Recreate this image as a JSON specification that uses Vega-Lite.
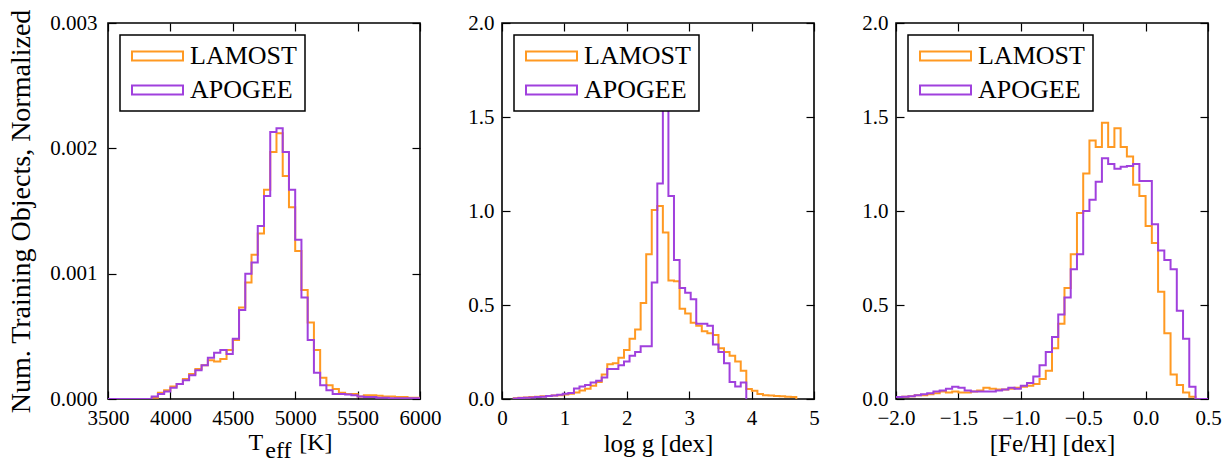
{
  "$schema": "https://vega.github.io/schema/vega-lite/v6.json",
  "background": "white",
  "padding": {"left": 6, "top": 8, "right": 5, "bottom": 0},
  "datasets": {
    "teff": [
      {"survey":"LAMOST","x":3500,"y":0},{"survey":"LAMOST","x":3550,"y":0},{"survey":"LAMOST","x":3600,"y":0},{"survey":"LAMOST","x":3650,"y":0},{"survey":"LAMOST","x":3700,"y":0},{"survey":"LAMOST","x":3750,"y":0},{"survey":"LAMOST","x":3800,"y":0},{"survey":"LAMOST","x":3850,"y":0.00001},{"survey":"LAMOST","x":3900,"y":0.00005},{"survey":"LAMOST","x":3950,"y":0.00007},
      {"survey":"LAMOST","x":4000,"y":0.0001},{"survey":"LAMOST","x":4050,"y":0.00012},{"survey":"LAMOST","x":4100,"y":0.00016},{"survey":"LAMOST","x":4150,"y":0.0002},{"survey":"LAMOST","x":4200,"y":0.00024},{"survey":"LAMOST","x":4250,"y":0.00027},{"survey":"LAMOST","x":4300,"y":0.00031},{"survey":"LAMOST","x":4350,"y":0.0003},{"survey":"LAMOST","x":4400,"y":0.00032},{"survey":"LAMOST","x":4450,"y":0.00039},
      {"survey":"LAMOST","x":4500,"y":0.00047},{"survey":"LAMOST","x":4550,"y":0.00073},{"survey":"LAMOST","x":4600,"y":0.00093},{"survey":"LAMOST","x":4650,"y":0.00115},{"survey":"LAMOST","x":4700,"y":0.00132},{"survey":"LAMOST","x":4750,"y":0.00167},{"survey":"LAMOST","x":4800,"y":0.00197},{"survey":"LAMOST","x":4850,"y":0.00212},{"survey":"LAMOST","x":4900,"y":0.00178},{"survey":"LAMOST","x":4950,"y":0.00153},
      {"survey":"LAMOST","x":5000,"y":0.00118},{"survey":"LAMOST","x":5050,"y":0.00087},{"survey":"LAMOST","x":5100,"y":0.00061},{"survey":"LAMOST","x":5150,"y":0.00039},{"survey":"LAMOST","x":5200,"y":0.00017},{"survey":"LAMOST","x":5250,"y":0.00011},{"survey":"LAMOST","x":5300,"y":0.00008},{"survey":"LAMOST","x":5350,"y":0.00005},{"survey":"LAMOST","x":5400,"y":0.00004},{"survey":"LAMOST","x":5450,"y":0.00004},
      {"survey":"LAMOST","x":5500,"y":0.00002},{"survey":"LAMOST","x":5550,"y":0.00003},{"survey":"LAMOST","x":5600,"y":0.00003},{"survey":"LAMOST","x":5650,"y":0.000025},{"survey":"LAMOST","x":5700,"y":0.00002},{"survey":"LAMOST","x":5750,"y":0.00002},{"survey":"LAMOST","x":5800,"y":0.000015},{"survey":"LAMOST","x":5850,"y":0.000015},{"survey":"LAMOST","x":5900,"y":0.00001},{"survey":"LAMOST","x":5950,"y":0.00001},{"survey":"LAMOST","x":6000,"y":0},
      {"survey":"APOGEE","x":3500,"y":0},{"survey":"APOGEE","x":3550,"y":0},{"survey":"APOGEE","x":3600,"y":0},{"survey":"APOGEE","x":3650,"y":0},{"survey":"APOGEE","x":3700,"y":0},{"survey":"APOGEE","x":3750,"y":0},{"survey":"APOGEE","x":3800,"y":0},{"survey":"APOGEE","x":3850,"y":0.00002},{"survey":"APOGEE","x":3900,"y":0.00004},{"survey":"APOGEE","x":3950,"y":0.00006},
      {"survey":"APOGEE","x":4000,"y":0.00009},{"survey":"APOGEE","x":4050,"y":0.00012},{"survey":"APOGEE","x":4100,"y":0.00015},{"survey":"APOGEE","x":4150,"y":0.00019},{"survey":"APOGEE","x":4200,"y":0.00023},{"survey":"APOGEE","x":4250,"y":0.00027},{"survey":"APOGEE","x":4300,"y":0.00033},{"survey":"APOGEE","x":4350,"y":0.00037},{"survey":"APOGEE","x":4400,"y":0.00039},{"survey":"APOGEE","x":4450,"y":0.00036},
      {"survey":"APOGEE","x":4500,"y":0.00048},{"survey":"APOGEE","x":4550,"y":0.00071},{"survey":"APOGEE","x":4600,"y":0.001},{"survey":"APOGEE","x":4650,"y":0.00109},{"survey":"APOGEE","x":4700,"y":0.00138},{"survey":"APOGEE","x":4750,"y":0.00162},{"survey":"APOGEE","x":4800,"y":0.00213},{"survey":"APOGEE","x":4850,"y":0.00216},{"survey":"APOGEE","x":4900,"y":0.00197},{"survey":"APOGEE","x":4950,"y":0.00167},
      {"survey":"APOGEE","x":5000,"y":0.00127},{"survey":"APOGEE","x":5050,"y":0.00081},{"survey":"APOGEE","x":5100,"y":0.00047},{"survey":"APOGEE","x":5150,"y":0.00021},{"survey":"APOGEE","x":5200,"y":0.00011},{"survey":"APOGEE","x":5250,"y":0.00007},{"survey":"APOGEE","x":5300,"y":0.00004},{"survey":"APOGEE","x":5350,"y":0.00004},{"survey":"APOGEE","x":5400,"y":0.000035},{"survey":"APOGEE","x":5450,"y":0.00003},
      {"survey":"APOGEE","x":5500,"y":0.00002},{"survey":"APOGEE","x":5550,"y":0.000015},{"survey":"APOGEE","x":5600,"y":0.000015},{"survey":"APOGEE","x":5650,"y":0.00001},{"survey":"APOGEE","x":5700,"y":0.00001},{"survey":"APOGEE","x":5750,"y":0.000005},{"survey":"APOGEE","x":5800,"y":0.000005},{"survey":"APOGEE","x":5850,"y":0.000005},{"survey":"APOGEE","x":5900,"y":0.000005},{"survey":"APOGEE","x":5950,"y":0.000005},{"survey":"APOGEE","x":6000,"y":0}
    ],
    "logg": [
      {"survey":"LAMOST","x":0.173,"y":0.004},{"survey":"LAMOST","x":0.262,"y":0.006},{"survey":"LAMOST","x":0.351,"y":0.008},{"survey":"LAMOST","x":0.44,"y":0.01},{"survey":"LAMOST","x":0.529,"y":0.012},{"survey":"LAMOST","x":0.618,"y":0.014},{"survey":"LAMOST","x":0.707,"y":0.016},{"survey":"LAMOST","x":0.796,"y":0.018},{"survey":"LAMOST","x":0.885,"y":0.02},{"survey":"LAMOST","x":0.974,"y":0.024},
      {"survey":"LAMOST","x":1.063,"y":0.028},{"survey":"LAMOST","x":1.153,"y":0.035},{"survey":"LAMOST","x":1.242,"y":0.045},{"survey":"LAMOST","x":1.331,"y":0.055},{"survey":"LAMOST","x":1.42,"y":0.07},{"survey":"LAMOST","x":1.509,"y":0.09},{"survey":"LAMOST","x":1.598,"y":0.13},{"survey":"LAMOST","x":1.687,"y":0.185},{"survey":"LAMOST","x":1.776,"y":0.19},{"survey":"LAMOST","x":1.865,"y":0.22},
      {"survey":"LAMOST","x":1.955,"y":0.26},{"survey":"LAMOST","x":2.044,"y":0.32},{"survey":"LAMOST","x":2.133,"y":0.37},{"survey":"LAMOST","x":2.222,"y":0.51},{"survey":"LAMOST","x":2.311,"y":0.77},{"survey":"LAMOST","x":2.4,"y":1.005},{"survey":"LAMOST","x":2.489,"y":1.026},{"survey":"LAMOST","x":2.578,"y":0.885},{"survey":"LAMOST","x":2.667,"y":0.63},{"survey":"LAMOST","x":2.756,"y":0.626},
      {"survey":"LAMOST","x":2.846,"y":0.48},{"survey":"LAMOST","x":2.935,"y":0.455},{"survey":"LAMOST","x":3.024,"y":0.405},{"survey":"LAMOST","x":3.113,"y":0.39},{"survey":"LAMOST","x":3.202,"y":0.36},{"survey":"LAMOST","x":3.291,"y":0.35},{"survey":"LAMOST","x":3.38,"y":0.34},{"survey":"LAMOST","x":3.469,"y":0.27},{"survey":"LAMOST","x":3.558,"y":0.25},{"survey":"LAMOST","x":3.647,"y":0.23},
      {"survey":"LAMOST","x":3.737,"y":0.2},{"survey":"LAMOST","x":3.826,"y":0.15},{"survey":"LAMOST","x":3.915,"y":0.053},{"survey":"LAMOST","x":4.004,"y":0.044},{"survey":"LAMOST","x":4.093,"y":0.026},{"survey":"LAMOST","x":4.182,"y":0.02},{"survey":"LAMOST","x":4.271,"y":0.018},{"survey":"LAMOST","x":4.36,"y":0.016},{"survey":"LAMOST","x":4.449,"y":0.014},{"survey":"LAMOST","x":4.538,"y":0.012},
      {"survey":"LAMOST","x":4.628,"y":0.01},{"survey":"LAMOST","x":4.717,"y":0},
      {"survey":"APOGEE","x":0.173,"y":0.003},{"survey":"APOGEE","x":0.262,"y":0.005},{"survey":"APOGEE","x":0.351,"y":0.007},{"survey":"APOGEE","x":0.44,"y":0.008},{"survey":"APOGEE","x":0.529,"y":0.01},{"survey":"APOGEE","x":0.618,"y":0.012},{"survey":"APOGEE","x":0.707,"y":0.016},{"survey":"APOGEE","x":0.796,"y":0.019},{"survey":"APOGEE","x":0.885,"y":0.023},{"survey":"APOGEE","x":0.974,"y":0.028},
      {"survey":"APOGEE","x":1.063,"y":0.032},{"survey":"APOGEE","x":1.153,"y":0.056},{"survey":"APOGEE","x":1.242,"y":0.067},{"survey":"APOGEE","x":1.331,"y":0.074},{"survey":"APOGEE","x":1.42,"y":0.088},{"survey":"APOGEE","x":1.509,"y":0.097},{"survey":"APOGEE","x":1.598,"y":0.115},{"survey":"APOGEE","x":1.687,"y":0.16},{"survey":"APOGEE","x":1.776,"y":0.16},{"survey":"APOGEE","x":1.865,"y":0.18},
      {"survey":"APOGEE","x":1.955,"y":0.2},{"survey":"APOGEE","x":2.044,"y":0.23},{"survey":"APOGEE","x":2.133,"y":0.25},{"survey":"APOGEE","x":2.222,"y":0.28},{"survey":"APOGEE","x":2.311,"y":0.28},{"survey":"APOGEE","x":2.4,"y":0.62},{"survey":"APOGEE","x":2.489,"y":1.146},{"survey":"APOGEE","x":2.578,"y":1.75},{"survey":"APOGEE","x":2.667,"y":1.08},{"survey":"APOGEE","x":2.756,"y":0.74},
      {"survey":"APOGEE","x":2.846,"y":0.59},{"survey":"APOGEE","x":2.935,"y":0.565},{"survey":"APOGEE","x":3.024,"y":0.53},{"survey":"APOGEE","x":3.113,"y":0.4},{"survey":"APOGEE","x":3.202,"y":0.4},{"survey":"APOGEE","x":3.291,"y":0.39},{"survey":"APOGEE","x":3.38,"y":0.29},{"survey":"APOGEE","x":3.469,"y":0.25},{"survey":"APOGEE","x":3.558,"y":0.19},{"survey":"APOGEE","x":3.647,"y":0.09},
      {"survey":"APOGEE","x":3.737,"y":0.067},{"survey":"APOGEE","x":3.826,"y":0.088},{"survey":"APOGEE","x":3.915,"y":0}
    ],
    "feh": [
      {"survey":"LAMOST","x":-2.0,"y":0.01},{"survey":"LAMOST","x":-1.95,"y":0.012},{"survey":"LAMOST","x":-1.9,"y":0.015},{"survey":"LAMOST","x":-1.85,"y":0.02},{"survey":"LAMOST","x":-1.8,"y":0.02},{"survey":"LAMOST","x":-1.75,"y":0.025},{"survey":"LAMOST","x":-1.7,"y":0.03},{"survey":"LAMOST","x":-1.65,"y":0.04},{"survey":"LAMOST","x":-1.6,"y":0.035},{"survey":"LAMOST","x":-1.55,"y":0.04},
      {"survey":"LAMOST","x":-1.5,"y":0.035},{"survey":"LAMOST","x":-1.45,"y":0.035},{"survey":"LAMOST","x":-1.4,"y":0.04},{"survey":"LAMOST","x":-1.35,"y":0.045},{"survey":"LAMOST","x":-1.3,"y":0.06},{"survey":"LAMOST","x":-1.25,"y":0.055},{"survey":"LAMOST","x":-1.2,"y":0.05},{"survey":"LAMOST","x":-1.15,"y":0.05},{"survey":"LAMOST","x":-1.1,"y":0.055},{"survey":"LAMOST","x":-1.05,"y":0.06},
      {"survey":"LAMOST","x":-1.0,"y":0.065},{"survey":"LAMOST","x":-0.95,"y":0.07},{"survey":"LAMOST","x":-0.9,"y":0.08},{"survey":"LAMOST","x":-0.85,"y":0.106},{"survey":"LAMOST","x":-0.8,"y":0.15},{"survey":"LAMOST","x":-0.75,"y":0.27},{"survey":"LAMOST","x":-0.7,"y":0.4},{"survey":"LAMOST","x":-0.65,"y":0.59},{"survey":"LAMOST","x":-0.6,"y":0.77},{"survey":"LAMOST","x":-0.55,"y":0.99},
      {"survey":"LAMOST","x":-0.5,"y":1.2},{"survey":"LAMOST","x":-0.45,"y":1.375},{"survey":"LAMOST","x":-0.4,"y":1.34},{"survey":"LAMOST","x":-0.35,"y":1.47},{"survey":"LAMOST","x":-0.3,"y":1.34},{"survey":"LAMOST","x":-0.25,"y":1.44},{"survey":"LAMOST","x":-0.2,"y":1.34},{"survey":"LAMOST","x":-0.15,"y":1.29},{"survey":"LAMOST","x":-0.1,"y":1.14},{"survey":"LAMOST","x":-0.05,"y":1.08},
      {"survey":"LAMOST","x":0.0,"y":0.92},{"survey":"LAMOST","x":0.05,"y":0.83},{"survey":"LAMOST","x":0.1,"y":0.57},{"survey":"LAMOST","x":0.15,"y":0.35},{"survey":"LAMOST","x":0.2,"y":0.13},{"survey":"LAMOST","x":0.25,"y":0.074},{"survey":"LAMOST","x":0.3,"y":0.035},{"survey":"LAMOST","x":0.35,"y":0.012},{"survey":"LAMOST","x":0.4,"y":0},{"survey":"LAMOST","x":0.45,"y":0},{"survey":"LAMOST","x":0.5,"y":0},
      {"survey":"APOGEE","x":-2.0,"y":0.01},{"survey":"APOGEE","x":-1.95,"y":0.012},{"survey":"APOGEE","x":-1.9,"y":0.015},{"survey":"APOGEE","x":-1.85,"y":0.02},{"survey":"APOGEE","x":-1.8,"y":0.025},{"survey":"APOGEE","x":-1.75,"y":0.03},{"survey":"APOGEE","x":-1.7,"y":0.04},{"survey":"APOGEE","x":-1.65,"y":0.045},{"survey":"APOGEE","x":-1.6,"y":0.055},{"survey":"APOGEE","x":-1.55,"y":0.065},
      {"survey":"APOGEE","x":-1.5,"y":0.06},{"survey":"APOGEE","x":-1.45,"y":0.045},{"survey":"APOGEE","x":-1.4,"y":0.04},{"survey":"APOGEE","x":-1.35,"y":0.04},{"survey":"APOGEE","x":-1.3,"y":0.04},{"survey":"APOGEE","x":-1.25,"y":0.04},{"survey":"APOGEE","x":-1.2,"y":0.045},{"survey":"APOGEE","x":-1.15,"y":0.05},{"survey":"APOGEE","x":-1.1,"y":0.06},{"survey":"APOGEE","x":-1.05,"y":0.055},
      {"survey":"APOGEE","x":-1.0,"y":0.07},{"survey":"APOGEE","x":-0.95,"y":0.085},{"survey":"APOGEE","x":-0.9,"y":0.12},{"survey":"APOGEE","x":-0.85,"y":0.18},{"survey":"APOGEE","x":-0.8,"y":0.25},{"survey":"APOGEE","x":-0.75,"y":0.33},{"survey":"APOGEE","x":-0.7,"y":0.45},{"survey":"APOGEE","x":-0.65,"y":0.54},{"survey":"APOGEE","x":-0.6,"y":0.69},{"survey":"APOGEE","x":-0.55,"y":0.77},
      {"survey":"APOGEE","x":-0.5,"y":1.0},{"survey":"APOGEE","x":-0.45,"y":1.06},{"survey":"APOGEE","x":-0.4,"y":1.155},{"survey":"APOGEE","x":-0.35,"y":1.28},{"survey":"APOGEE","x":-0.3,"y":1.25},{"survey":"APOGEE","x":-0.25,"y":1.225},{"survey":"APOGEE","x":-0.2,"y":1.235},{"survey":"APOGEE","x":-0.15,"y":1.24},{"survey":"APOGEE","x":-0.1,"y":1.25},{"survey":"APOGEE","x":-0.05,"y":1.16},
      {"survey":"APOGEE","x":0.0,"y":1.16},{"survey":"APOGEE","x":0.05,"y":0.93},{"survey":"APOGEE","x":0.1,"y":0.79},{"survey":"APOGEE","x":0.15,"y":0.74},{"survey":"APOGEE","x":0.2,"y":0.69},{"survey":"APOGEE","x":0.25,"y":0.47},{"survey":"APOGEE","x":0.3,"y":0.32},{"survey":"APOGEE","x":0.35,"y":0.065},{"survey":"APOGEE","x":0.4,"y":0},{"survey":"APOGEE","x":0.45,"y":0},{"survey":"APOGEE","x":0.5,"y":0}
    ]
  },
  "spacing": 82,
  "bounds": "flush",
  "resolve": {"scale": {"color": "independent"}, "legend": {"color": "independent"}},
  "hconcat": [
    {
      "width": 312, "height": 376,
      "data": {"name": "teff"},
      "resolve": {"axis": {"x": "independent", "y": "independent"}},
      "layer": [
        {
          "mark": {"type": "line", "interpolate": "step-after", "strokeWidth": 2, "clip": true},
          "encoding": {
            "x": {"field": "x", "type": "quantitative", "scale": {"domain": [3500, 6000], "nice": false, "zero": false},
                  "axis": {"orient": "bottom", "values": [3500, 4000, 4500, 5000, 5500, 6000], "format": "d", "title": ["T\u2003\u2002[K]", "\u200B\u2002\u2009eff"], "titleLineHeight": 8, "titleFontSize": 24, "titlePadding": 2, "titleAlign": "left", "titleX": 140}},
            "y": {"field": "y", "type": "quantitative", "scale": {"domain": [0, 0.003], "nice": false},
                  "axis": {"orient": "left", "values": [0, 0.001, 0.002, 0.003], "format": ".3f", "title": "Num. Training Objects, Normalized", "titleFontSize": 28, "titlePadding": 14, "labelPadding": 11}},
            "color": {"field": "survey", "type": "nominal", "sort": ["LAMOST", "APOGEE"], "scale": {"domain": ["LAMOST", "APOGEE"], "range": ["#ff9922", "#a040dd"]}}
          }
        },
        {
          "mark": {"type": "line", "opacity": 0},
          "encoding": {
            "x": {"field": "x", "type": "quantitative", "axis": {"orient": "top", "values": [3500, 4000, 4500, 5000, 5500, 6000], "labels": false, "title": null}},
            "y": {"field": "y", "type": "quantitative", "axis": {"orient": "right", "values": [0, 0.001, 0.002, 0.003], "labels": false, "title": null}}
          }
        }
      ]
    },
    {
      "width": 312, "height": 376,
      "data": {"name": "logg"},
      "resolve": {"axis": {"x": "independent", "y": "independent"}},
      "layer": [
        {
          "mark": {"type": "line", "interpolate": "step-after", "strokeWidth": 2, "clip": true},
          "encoding": {
            "x": {"field": "x", "type": "quantitative", "scale": {"domain": [0, 5], "nice": false, "zero": false},
                  "axis": {"orient": "bottom", "values": [0, 1, 2, 3, 4, 5], "format": "d", "title": "log g [dex]"}},
            "y": {"field": "y", "type": "quantitative", "scale": {"domain": [0, 2], "nice": false},
                  "axis": {"orient": "left", "values": [0, 0.5, 1, 1.5, 2], "format": ".1f", "title": null}},
            "color": {"field": "survey", "type": "nominal", "sort": ["LAMOST", "APOGEE"], "scale": {"domain": ["LAMOST", "APOGEE"], "range": ["#ff9922", "#a040dd"]}}
          }
        },
        {
          "mark": {"type": "line", "opacity": 0},
          "encoding": {
            "x": {"field": "x", "type": "quantitative", "axis": {"orient": "top", "values": [0, 1, 2, 3, 4, 5], "labels": false, "title": null}},
            "y": {"field": "y", "type": "quantitative", "axis": {"orient": "right", "values": [0, 0.5, 1, 1.5, 2], "labels": false, "title": null}}
          }
        }
      ]
    },
    {
      "width": 312, "height": 376,
      "data": {"name": "feh"},
      "resolve": {"axis": {"x": "independent", "y": "independent"}},
      "layer": [
        {
          "mark": {"type": "line", "interpolate": "step-after", "strokeWidth": 2, "clip": true},
          "encoding": {
            "x": {"field": "x", "type": "quantitative", "scale": {"domain": [-2, 0.5], "nice": false, "zero": false},
                  "axis": {"orient": "bottom", "values": [-2, -1.5, -1, -0.5, 0, 0.5], "format": ".1f", "title": "[Fe/H] [dex]"}},
            "y": {"field": "y", "type": "quantitative", "scale": {"domain": [0, 2], "nice": false},
                  "axis": {"orient": "left", "values": [0, 0.5, 1, 1.5, 2], "format": ".1f", "title": null}},
            "color": {"field": "survey", "type": "nominal", "sort": ["LAMOST", "APOGEE"], "scale": {"domain": ["LAMOST", "APOGEE"], "range": ["#ff9922", "#a040dd"]}}
          }
        },
        {
          "mark": {"type": "line", "opacity": 0},
          "encoding": {
            "x": {"field": "x", "type": "quantitative", "axis": {"orient": "top", "values": [-2, -1.5, -1, -0.5, 0, 0.5], "labels": false, "title": null}},
            "y": {"field": "y", "type": "quantitative", "axis": {"orient": "right", "values": [0, 0.5, 1, 1.5, 2], "labels": false, "title": null}}
          }
        }
      ]
    }
  ],
  "config": {
    "font": "Liberation Serif",
    "view": {"stroke": "black", "strokeWidth": 1.6},
    "axis": {
      "grid": false, "domain": false, "offset": -8, "tickSize": 8, "tickColor": "black", "tickWidth": 1.2,
      "labelFont": "Liberation Serif", "labelFontSize": 21, "labelColor": "black", "labelPadding": 8,
      "labelFlush": false, "labelOverlap": false,
      "titleFont": "Liberation Serif", "titleFontSize": 25, "titleFontWeight": "normal", "titleColor": "black", "titlePadding": 3
    },
    "legend": {
      "orient": "top-left", "offset": 12, "title": null, "padding": 8, "rowPadding": 8,
      "labelFont": "Liberation Serif", "labelFontSize": 26, "labelColor": "black", "labelOffset": 36, "labelLimit": 300,
      "symbolType": "M-1,-0.5H4.667V0.5H-1Z", "symbolSize": 324, "symbolStrokeWidth": 2, "symbolFillColor": "transparent",
      "strokeColor": "black", "strokeWidth": 1.5, "fillColor": "white", "cornerRadius": 0
    }
  }
}
